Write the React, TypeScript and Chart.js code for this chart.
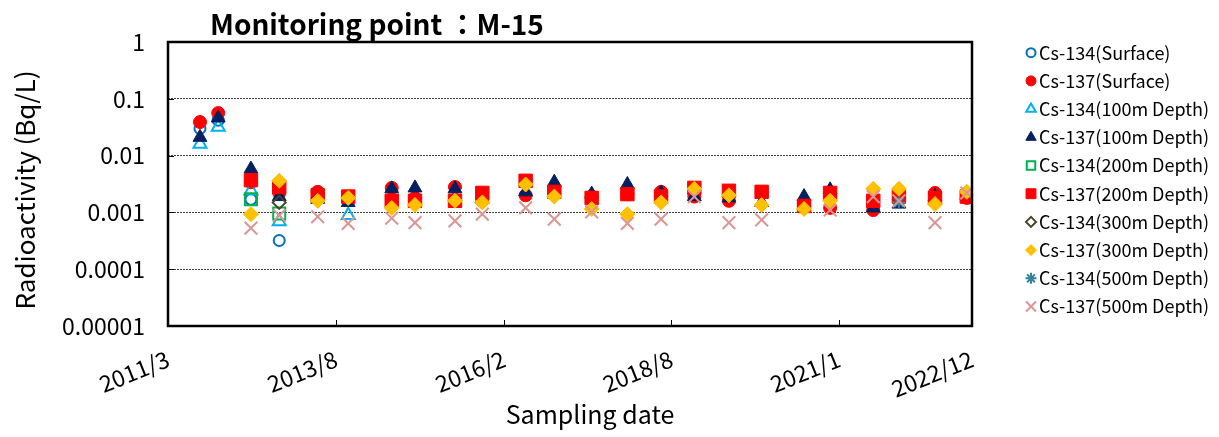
import React, { useEffect, useRef } from 'react';
import Chart from 'chart.js/auto';
import { drawPoint } from 'chart.js/helpers';

// ---------- data ----------
const sampleDates = [
  '2011-08-20', '2011-11-26', '2012-05-20', '2012-10-19', '2013-05-14', '2013-10-25',
  '2014-06-16', '2014-10-19', '2015-05-22', '2015-10-16', '2016-06-05', '2016-11-06',
  '2017-05-26', '2017-12-04', '2018-06-03', '2018-11-29', '2019-06-03', '2019-11-26',
  '2020-07-11', '2020-11-28', '2021-07-18', '2021-12-03', '2022-06-15', '2022-12-03',
];
const N = null;
const cs134Surface = [0.030, 0.042, 0.0017, 0.00032, N, N, N, N, N, N, N, N, N, N, N, N, N, N, N, N, N, N, N, N];
const cs137Surface = [0.039, 0.056, 0.0034, 0.0022, 0.0023, 0.0019, 0.0027, 0.0018, 0.0028, 0.0016, 0.0020, 0.0022, 0.0019, 0.0021, 0.0023, 0.0019, 0.0016, 0.0022, 0.0013, 0.0012, 0.0011, 0.0017, 0.0022, 0.0018];
const cs134D100 = [0.016, 0.032, 0.0024, 0.00069, N, 0.00089, N, N, N, N, N, N, N, N, N, N, N, N, N, N, N, N, N, N];
const cs137D100 = [0.021, 0.046, 0.0058, 0.0019, 0.0017, 0.0015, 0.0026, 0.0027, 0.0026, 0.0017, 0.0023, 0.0034, 0.0021, 0.0031, 0.0022, 0.0019, 0.0018, 0.0015, 0.0019, 0.0025, 0.0012, 0.0014, 0.0019, 0.0020];
const cs134D200 = [N, N, 0.0017, 0.00096, N, N, N, N, N, N, N, N, N, N, N, N, N, N, N, N, N, N, N, N];
const cs137D200 = [N, N, 0.0037, 0.0028, 0.0020, 0.0019, 0.0016, 0.0016, 0.0016, 0.0022, 0.0036, 0.0023, 0.0018, 0.0021, 0.0019, 0.0027, 0.0024, 0.0023, 0.0013, 0.0022, 0.0016, 0.0019, 0.0018, 0.0019];
const cs134D300 = [N, N, N, 0.0015, N, N, N, N, N, N, N, N, N, N, N, N, N, N, N, N, N, N, N, N];
const cs137D300 = [N, N, 0.00093, 0.0036, 0.0016, 0.0018, 0.0012, 0.00135, 0.0016, 0.0015, 0.0031, 0.0019, 0.00115, 0.00093, 0.0015, 0.0026, 0.0020, 0.00135, 0.00115, 0.0016, 0.0026, 0.0026, 0.0014, 0.0023];
const cs134D500 = [N, N, N, N, N, N, N, N, N, N, N, N, N, N, N, N, N, N, N, N, N, 0.0015, N, N];
const cs137D500 = [N, N, 0.00053, 0.00088, 0.00084, 0.00064, 0.00079, 0.00066, 0.00071, 0.00093, 0.0012, 0.00076, 0.00102, 0.00064, 0.00076, 0.0019, 0.00066, 0.00074, N, 0.0011, 0.0019, 0.0016, 0.00066, 0.0022];

const seriesNames = [
  'Cs-134(Surface)', 'Cs-137(Surface)', 'Cs-134(100m Depth)', 'Cs-137(100m Depth)',
  'Cs-134(200m Depth)', 'Cs-137(200m Depth)', 'Cs-134(300m Depth)', 'Cs-137(300m Depth)',
  'Cs-134(500m Depth)', 'Cs-137(500m Depth)',
];
const seriesValues = [cs134Surface, cs137Surface, cs134D100, cs137D100, cs134D200, cs137D200, cs134D300, cs137D300, cs134D500, cs137D500];

const xMinDate = '2011-03-01';
const xMaxDate = '2022-12-31';
const xTickDates = ['2011-03-01', '2013-08-21', '2016-02-10', '2018-07-29', '2021-01-15', '2022-12-31'];
const xTickLabels = ['2011/3', '2013/8', '2016/2', '2018/8', '2021/1', '2022/12'];
const yTickValues = [1, 0.1, 0.01, 0.001, 0.0001, 0.00001];
const yTickLabels = ['1', '0.1', '0.01', '0.001', '0.0001', '0.00001'];

const titleText = 'Monitoring point ：M-15';
const yTitleText = 'Radioactivity (Bq/L)';
const xTitleText = 'Sampling date';

// ---------- styles ----------
const FONT = "'Noto Sans CJK JP', 'Noto Sans', sans-serif";
const styles = [
  { style: 'circle', color: '#0070C0', fill: false, r: 5.5, lr: 4.5, bw: 2 },
  { style: 'circle', color: '#FF0000', fill: true, r: 6.5, lr: 5, bw: 1 },
  { style: 'triangle', color: '#00B0F0', fill: false, r: 7.5, lr: 5.5, bw: 2 },
  { style: 'triangle', color: '#002060', fill: true, r: 8, lr: 6, bw: 1 },
  { style: 'rect', color: '#00B050', fill: false, r: 8.5, lr: 6, bw: 2 },
  { style: 'rect', color: '#FF0000', fill: true, r: 9.5, lr: 7, bw: 1 },
  { style: 'rectRot', color: '#494529', fill: false, r: 6.5, lr: 5, bw: 2 },
  { style: 'rectRot', color: '#FFC000', fill: true, r: 7.5, lr: 5.5, bw: 1 },
  { style: 'star', color: '#31849B', fill: false, r: 6.5, lr: 5.5, bw: 2 },
  { style: 'crossRot', color: '#DA9694', fill: false, r: 9, lr: 7, bw: 2 },
];

const toTs = (d: string) => new Date(d + 'T00:00:00Z').getTime();

const decorPlugin = {
  id: 'decor',
  afterDatasetsDraw(chart: any) {
    const { ctx, chartArea: a, scales } = chart;
    ctx.save();
    ctx.strokeStyle = '#000';
    ctx.lineWidth = 1;
    ctx.setLineDash([]);
    xTickDates.slice(1, -1).forEach((d) => {
      const px = Math.round(scales.x.getPixelForValue(toTs(d))) + 0.5;
      ctx.beginPath();
      ctx.moveTo(px, a.bottom);
      ctx.lineTo(px, a.bottom - 6);
      ctx.stroke();
    });
    yTickValues.slice(1, -1).forEach((v) => {
      const py = Math.round(scales.y.getPixelForValue(v)) + 0.5;
      ctx.beginPath();
      ctx.moveTo(a.left, py);
      ctx.lineTo(a.left + 6, py);
      ctx.stroke();
    });
    ctx.lineWidth = 2.5;
    ctx.strokeRect(a.left, a.top, a.right - a.left, a.bottom - a.top);
    ctx.restore();
  },
  afterDraw(chart: any) {
    const { ctx } = chart;
    ctx.save();
    ctx.fillStyle = '#000';
    // title
    ctx.font = `bold 28px ${FONT}`;
    ctx.textAlign = 'left';
    ctx.textBaseline = 'alphabetic';
    ctx.fillText(titleText, 210, 35);
    // x title
    ctx.font = `25px ${FONT}`;
    ctx.textAlign = 'center';
    ctx.textBaseline = 'middle';
    ctx.fillText(xTitleText, 590, 414);
    // y title
    ctx.save();
    ctx.translate(25, 190);
    ctx.rotate(-Math.PI / 2);
    ctx.font = `26px ${FONT}`;
    ctx.fillText(yTitleText, 0, 0);
    ctx.restore();
    // legend
    const lx = 1031;
    const ly0 = 52.7;
    const step = 28.2;
    seriesNames.forEach((name, i) => {
      const s = styles[i];
      const y = ly0 + i * step;
      ctx.fillStyle = s.fill ? s.color : 'rgba(0,0,0,0)';
      ctx.strokeStyle = s.color;
      ctx.lineWidth = s.bw;
      drawPoint(ctx, { pointStyle: s.style, radius: s.lr, rotation: 0, borderWidth: s.bw } as any, lx, y);
      ctx.fillStyle = '#000';
      ctx.font = `18px ${FONT}`;
      ctx.textAlign = 'left';
      ctx.textBaseline = 'middle';
      ctx.fillText(name, 1039, y);
    });
    ctx.restore();
  },
};

export default function App() {
  const ref = useRef<HTMLCanvasElement>(null);
  useEffect(() => {
    document.body.style.margin = '0';
    if (!ref.current) return;
    Chart.defaults.font.family = FONT;
    const n = seriesNames.length;
    const datasets = seriesNames.map((name, i) => {
      const s = styles[i];
      const vals = seriesValues[i];
      return {
        label: name,
        data: sampleDates
          .map((d, j) => ({ x: toTs(d), y: vals[j] }))
          .filter((p) => p.y !== null),
        pointStyle: s.style,
        pointRadius: s.r,
        pointHoverRadius: s.r,
        pointBackgroundColor: s.fill ? s.color : 'rgba(0,0,0,0)',
        pointBorderColor: s.color,
        pointBorderWidth: s.bw,
        showLine: false,
        order: n - i,
      };
    });
    const chart = new Chart(ref.current, {
      type: 'scatter',
      data: { datasets },
      options: {
        animation: false,
        responsive: false,
        layout: { padding: { top: 42, right: 247, left: 0, bottom: 0 } },
        plugins: {
          legend: { display: false },
          title: { display: false },
          tooltip: { enabled: false },
        },
        scales: {
          x: {
            type: 'linear',
            min: toTs(xMinDate),
            max: toTs(xMaxDate),
            afterBuildTicks: (scale: any) => {
              scale.ticks = xTickDates.map((d) => ({ value: toTs(d) }));
            },
            afterFit: (scale: any) => {
              scale.height = 111;
            },
            grid: { display: false, drawTicks: false },
            border: { display: false },
            ticks: {
              autoSkip: false,
              minRotation: 22,
              maxRotation: 22,
              padding: 19,
              color: '#000',
              font: { size: 23, family: FONT },
              callback: (_v: any, idx: number) => xTickLabels[idx],
            },
          },
          y: {
            type: 'logarithmic',
            min: 0.00001,
            max: 1,
            afterBuildTicks: (scale: any) => {
              scale.ticks = yTickValues.map((v) => ({ value: v }));
            },
            afterFit: (scale: any) => {
              scale.width = 168;
            },
            grid: { color: '#404040', lineWidth: 1, drawTicks: false },
            border: { display: false, dash: [2, 1] },
            ticks: {
              padding: 23,
              color: '#000',
              font: { size: 23, family: FONT },
              callback: (v: any) => {
                const k = yTickValues.findIndex((t) => Math.abs(Math.log10(t) - Math.log10(v)) < 1e-6);
                return k >= 0 ? yTickLabels[k] : '';
              },
            },
          },
        },
      },
      plugins: [decorPlugin],
    } as any);
    return () => chart.destroy();
  }, []);
  return (
    <div style={{ width: 1219, height: 437, background: '#fff' }}>
      <canvas ref={ref} width={1219} height={437} style={{ display: 'block' }} />
    </div>
  );
}
